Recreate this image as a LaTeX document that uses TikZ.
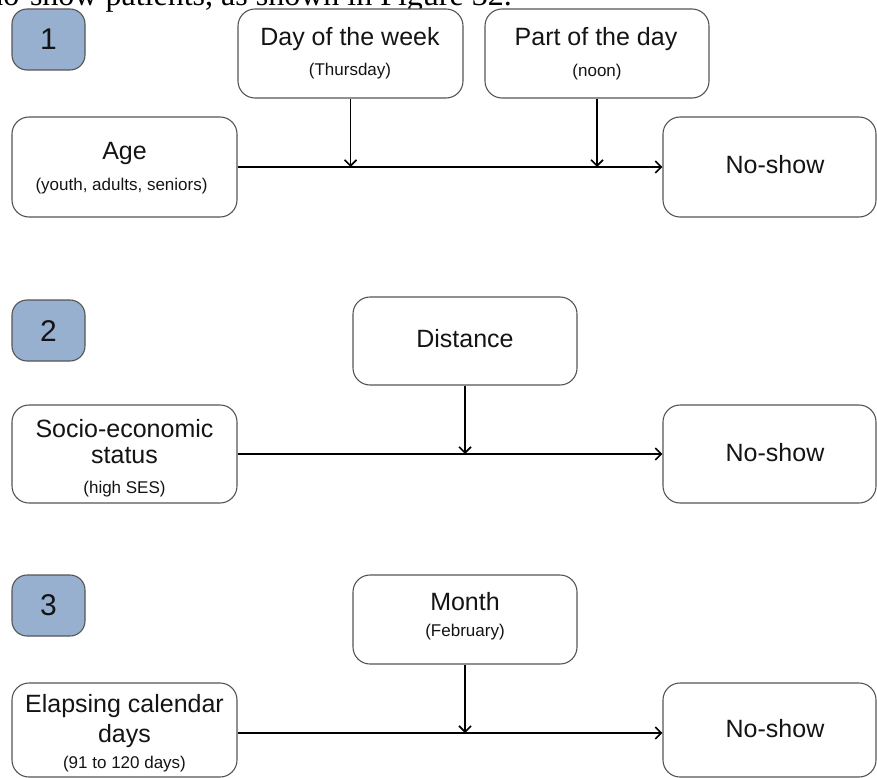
\documentclass[tikz,border=0pt]{standalone}
\usepackage{fontspec}
\setmainfont{Liberation Sans}
\newfontfamily\bodyserif{Liberation Serif}
\usetikzlibrary{arrows.meta}

\definecolor{badgeblue}{RGB}{152,176,208}
\definecolor{edgegray}{RGB}{85,85,85}
\definecolor{inkblack}{RGB}{20,20,20}

\tikzset{
  box/.style={draw=edgegray, line width=1.1pt, rounded corners=17pt,
    fill=white, inner sep=0pt},
  badge/.style={draw=edgegray, line width=1.1pt, rounded corners=15pt,
    fill=badgeblue, inner sep=0pt, minimum width=73pt, minimum height=61pt},
  bigtxt/.style={font=\fontsize{25}{30}\selectfont, text=inkblack,
    inner sep=0pt, anchor=base},
  smalltxt/.style={font=\fontsize{17}{20}\selectfont, text=inkblack,
    inner sep=0pt, anchor=base},
  numtxt/.style={font=\fontsize{30}{36}\selectfont, text=inkblack,
    inner sep=0pt, anchor=base},
  link/.style={draw=black, line width=1.6pt,
    -{Straight Barb[length=6pt, width=12pt]}},
}

\begin{document}
\begin{tikzpicture}[x=1pt, y=-1pt]
  \useasboundingbox (0,0) rectangle (877,778);

  % running text of the page above the figure
  \node[font=\bodyserif\fontsize{32}{38}\selectfont, inner sep=0pt,
        anchor=base east] (runtext) at (512,6)
        {no-show patients, as shown in Figure 32.};

  % ---------- model 1 ----------
  \node[badge] (b1) at (48.5,39.5) {};
  \node[numtxt] (b1t) at (48.5,50) {1};

  \node[box, minimum width=225pt, minimum height=89pt] (day) at (350.5,53.5) {};
  \node[bigtxt] (dayt) at (350,46) {Day of the week};
  \node[smalltxt] (days) at (350,76) {(Thursday)};

  \node[box, minimum width=224pt, minimum height=89pt] (part) at (597,53.5) {};
  \node[bigtxt] (partt) at (596,46) {Part of the day};
  \node[smalltxt] (parts) at (597,77) {(noon)};

  \node[box, minimum width=225pt, minimum height=100pt] (age) at (124.5,167) {};
  \node[bigtxt] (aget) at (124.5,160) {Age};
  \node[smalltxt] (ages) at (121.5,190) {(youth, adults, seniors)};

  \node[box, minimum width=213pt, minimum height=100pt] (ns1) at (769.5,167) {};
  \node[bigtxt] (ns1t) at (775,173) {No-show};

  \coordinate (j1a) at (day |- age);
  \coordinate (j1b) at (part |- age);
  \draw[link] (age) -- (ns1);
  \draw[link] (day) -- (j1a);
  \draw[link] (part) -- (j1b);

  % ---------- model 2 ----------
  \node[badge] (b2) at (48.5,330.5) {};
  \node[numtxt] (b2t) at (48.5,341) {2};

  \node[box, minimum width=224pt, minimum height=88pt] (dist) at (465,341) {};
  \node[bigtxt] (distt) at (465,347) {Distance};

  \node[box, minimum width=225pt, minimum height=98pt] (ses) at (124.5,454) {};
  \node[bigtxt] (sest) at (124.5,437) {Socio-economic};
  \node[bigtxt] (sesu) at (124.5,463) {status};
  \node[smalltxt] (sess) at (124.5,493) {(high SES)};

  \node[box, minimum width=213pt, minimum height=98pt] (ns2) at (769.5,454) {};
  \node[bigtxt] (ns2t) at (775,461) {No-show};

  \coordinate (j2) at (dist |- ses);
  \draw[link] (ses) -- (ns2);
  \draw[link] (dist) -- (j2);

  % ---------- model 3 ----------
  \node[badge] (b3) at (48.5,605.5) {};
  \node[numtxt] (b3t) at (48.5,615) {3};

  \node[box, minimum width=224pt, minimum height=89pt] (month) at (465,619.5) {};
  \node[bigtxt] (montht) at (465,610) {Month};
  \node[smalltxt] (months) at (465,636) {(February)};

  \node[box, minimum width=225pt, minimum height=94pt] (elap) at (124.5,730) {};
  \node[bigtxt] (elapt) at (124.5,712) {Elapsing calendar};
  \node[bigtxt] (elapu) at (124.5,742) {days};
  \node[smalltxt] (elaps) at (124.5,768) {(91 to 120 days)};

  \node[box, minimum width=213pt, minimum height=94pt] (ns3) at (769.5,730) {};
  \node[bigtxt] (ns3t) at (775,737) {No-show};

  \coordinate (e3) at ([yshift=-3pt]elap.east);
  \coordinate (n3) at ([yshift=-3pt]ns3.west);
  \coordinate (j3) at (month |- e3);
  \draw[link] (e3) -- (n3);
  \draw[link] (month) -- (j3);
\end{tikzpicture}
\end{document}
